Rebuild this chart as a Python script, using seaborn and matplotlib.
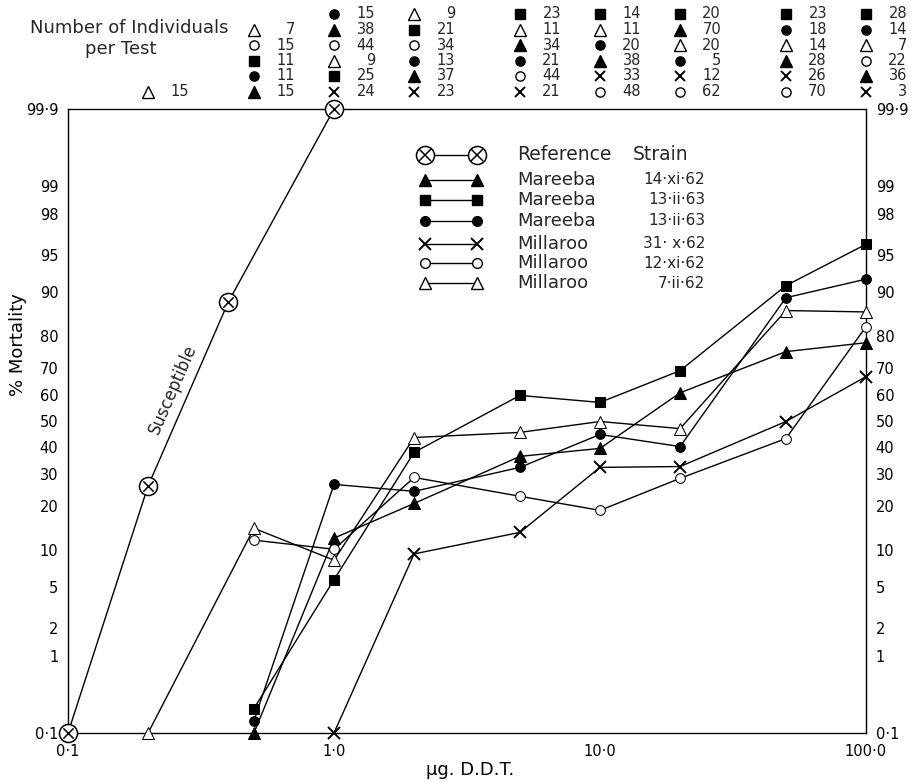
import statistics
import numpy as np
import pandas as pd
import matplotlib
matplotlib.use("Agg")
import matplotlib.pyplot as plt
import matplotlib.transforms as mtransforms
from matplotlib.ticker import NullLocator
import seaborn as sns

# probit (normal-probability) scale for % mortality
_nd = statistics.NormalDist()

def probit(p):
    p = np.clip(np.asarray(p, dtype=float), 1e-7, 100 - 1e-7) / 100.0
    return np.vectorize(_nd.inv_cdf, otypes=[float])(p)

def inv_probit(z):
    return np.vectorize(_nd.cdf, otypes=[float])(np.asarray(z, dtype=float)) * 100.0

# ---- data (dose in ug DDT, % mortality) ----
ref_dose = [0.1, 0.2, 0.4, 1.0]
ref_mort = [0.1, 26, 88, 99.9]

doses = [0.5, 1.0, 2.0, 5.0, 10.0, 20.0, 50.0, 100.0]
mar_tri = [0.1, 12.3, 20.7, 36.3, 39.3, 61, 75.4, 78.1]      # Mareeba 14.xi.62
mar_sq = [0.22, 5.8, 37.8, 60, 57.3, 69.1, 91, 96]           # Mareeba 13.ii.63
mar_circ = [0.15, 26.5, 24.3, 32.3, 44.7, 40, 88.9, 92]      # Mareeba 13.ii.63
mill_x_dose = [1.0, 2.0, 5.0, 10.0, 20.0, 50.0, 100.0]
mill_x = [0.1, 9.4, 13.5, 32.3, 32.6, 49.8, 67]              # Millaroo 31.x.62
mill_o = [11.9, 10.2, 28.8, 22.8, 18.8, 28.5, 43.1, 82.5]    # Millaroo 12.xi.62
mill_tri_dose = [0.2, 0.5, 1.0, 2.0, 5.0, 10.0, 20.0, 50.0, 100.0]
mill_tri = [0.1, 14.4, 8.4, 43.5, 45.5, 49.8, 47, 86.3, 86]  # Millaroo 7.ii.62

# number of individuals per test
n_mar_tri = [15, 38, 37, 34, 38, 70, 28, 36]
n_mar_sq = [11, 25, 21, 23, 14, 20, 23, 28]
n_mar_circ = [11, 15, 13, 21, 20, 5, 18, 14]
n_mill_x = [24, 23, 21, 33, 12, 26, 3]
n_mill_o = [15, 44, 34, 44, 48, 62, 70, 22]
n_mill_tri = [15, 7, 9, 9, 11, 11, 20, 14, 7]

strains = ["Mareeba 14·xi·62", "Mareeba 13·ii·63 sq", "Mareeba 13·ii·63 ci",
           "Millaroo 31·x·62", "Millaroo 12·xi·62", "Millaroo 7·ii·62"]
legend_names = ["Mareeba", "Mareeba", "Mareeba", "Millaroo", "Millaroo", "Millaroo"]
legend_dates = ["14·xi·62", "13·ii·63", "13·ii·63", "31· x·62", "12·xi·62", "7·ii·62"]

rows = []
for s, d, m, n in zip(strains,
                      [doses, doses, doses, mill_x_dose, doses, mill_tri_dose],
                      [mar_tri, mar_sq, mar_circ, mill_x, mill_o, mill_tri],
                      [n_mar_tri, n_mar_sq, n_mar_circ, n_mill_x, n_mill_o, n_mill_tri]):
    for di, mi, ni in zip(d, m, n):
        rows.append((s, di, mi, ni))
df = pd.DataFrame(rows, columns=["strain", "dose", "mortality", "n"])

styles = {
    strains[0]: dict(marker="^", markersize=9, markerfacecolor="black"),
    strains[1]: dict(marker="s", markersize=7.5, markerfacecolor="black"),
    strains[2]: dict(marker="o", markersize=7, markerfacecolor="black"),
    strains[3]: dict(marker="x", markersize=8, markeredgewidth=1.4),
    strains[4]: dict(marker="o", markersize=7, markerfacecolor="white"),
    strains[5]: dict(marker="^", markersize=9, markerfacecolor="white"),
}

sns.set_theme(style="white")
plt.rcParams["font.family"] = ["DejaVu Sans"]

W, H = 924, 782
fig = plt.figure(figsize=(W / 100, H / 100), dpi=100)
ax = fig.add_axes([68 / W, (H - 733) / H, 798 / W, 624 / H])
ax.set_xscale("log")
ax.set_yscale("function", functions=(probit, inv_probit))
ax.set_xlim(0.1, 100)
ax.set_ylim(0.1, 99.9)

for s in strains:
    sns.lineplot(data=df[df.strain == s], x="dose", y="mortality", ax=ax,
                 color="black", linewidth=1.0, markeredgecolor="black",
                 errorbar=None, clip_on=False, zorder=3, **styles[s])

# reference (susceptible) strain: circled crosses
ref_df = pd.DataFrame({"dose": ref_dose, "mortality": ref_mort})
sns.lineplot(data=ref_df, x="dose", y="mortality", ax=ax, color="black", linewidth=1.0,
             marker="o", markersize=13, markerfacecolor="white", markeredgecolor="black",
             markeredgewidth=1.1, errorbar=None, clip_on=False, zorder=4)
sns.scatterplot(data=ref_df, x="dose", y="mortality", ax=ax, marker="x", s=55,
                color="black", linewidth=1.1, clip_on=False, zorder=5)

# axes, ticks
for sp in ax.spines.values():
    sp.set_color("black")
    sp.set_linewidth(1.0)
    sp.set_visible(True)
ax.set_xticks([0.1, 1, 10, 100], labels=["0·1", "1·0", "10·0", "100·0"])
yt = [0.1, 1, 2, 5, 10, 20, 30, 40, 50, 60, 70, 80, 90, 95, 98, 99, 99.9]
ax.set_yticks(yt, labels=["0·1", "1", "2", "5", "10", "20", "30", "40", "50", "60",
                          "70", "80", "90", "95", "98", "99", "99·9"])
ax.xaxis.set_minor_locator(NullLocator())
ax.yaxis.set_minor_locator(NullLocator())
ax.tick_params(axis="both", length=0, labelsize=10.5, colors="black")
ax.tick_params(axis="x", pad=8)
ax.tick_params(axis="y", pad=7, labelright=True)
ax.grid(False)
ax.set_xlabel("μg. D.D.T.", fontsize=13, color="black")
ax.set_ylabel("% Mortality", fontsize=13, color="black")
ax.xaxis.set_label_coords((470 - 68) / 798, (733 - 770) / 624)
ax.yaxis.set_label_coords((18 - 68) / 798, (733 - 345) / 624)
ax.xaxis.label.set_va("center")
ax.yaxis.label.set_va("center")

# "Susceptible" along the reference line
p1 = ax.transData.transform((ref_dose[1], ref_mort[1]))
p2 = ax.transData.transform((ref_dose[2], ref_mort[2]))
ang = np.degrees(np.arctan2(p2[1] - p1[1], p2[0] - p1[0]))
mid = (p1 + p2) / 2
ax.annotate("Susceptible", xy=mid, xycoords="figure pixels", xytext=(-5, 1),
            textcoords="offset points", rotation=ang, rotation_mode="anchor",
            ha="center", va="bottom", fontsize=12)

# header: number of individuals per test
fig.text(30 / W, 1 - 28 / H, "Number of Individuals", fontsize=13, ha="left", va="center")
fig.text(121 / W, 1 - 49 / H, "per Test", fontsize=13, ha="center", va="center")
blend = mtransforms.blended_transform_factory(ax.transData, fig.transFigure)
row_y = [14, 29.5, 45, 60.5, 76, 91.5]
hdr = df.sort_values(["dose", "mortality"], ascending=[True, False])
for dose, grp in hdr.groupby("dose"):
    start = len(row_y) - len(grp)
    for k, (_, r) in enumerate(grp.iterrows()):
        yf = 1 - row_y[start + k] / H
        st = dict(styles[r.strain])
        st["markersize"] = st["markersize"] * 0.95
        ax.plot([dose], [yf], transform=blend, color="black", markeredgecolor="black",
                linestyle="none", clip_on=False, **st)
        ax.annotate(str(r.n), xy=(dose, yf), xycoords=blend, xytext=(41, 0),
                    textcoords="offset pixels", ha="right", va="center", fontsize=10.5)

# legend drawn as in the original
leg_y = [155, 180, 200, 221, 244, 263, 283]
ax.plot([425 / W, 477 / W], [1 - leg_y[0] / H] * 2, transform=fig.transFigure, color="black",
        lw=1.0, marker="o", ms=13, mfc="white", mec="black", mew=1.1, clip_on=False)
ax.plot([425 / W, 477 / W], [1 - leg_y[0] / H] * 2, transform=fig.transFigure, color="black",
        lw=0, marker="x", ms=8, mew=1.1, clip_on=False)
fig.text(517 / W, 1 - leg_y[0] / H, "Reference", fontsize=13.5, va="center")
fig.text(633 / W, 1 - leg_y[0] / H, "Strain", fontsize=13.5, va="center")
for i, s in enumerate(strains):
    y = 1 - leg_y[i + 1] / H
    ax.plot([425 / W, 477 / W], [y, y], transform=fig.transFigure, color="black", lw=1.0,
            markeredgecolor="black", clip_on=False, **styles[s])
    fig.text(517 / W, y, legend_names[i], fontsize=13, va="center")
    fig.text(705 / W, y, legend_dates[i], fontsize=11, va="center", ha="right")

fig.savefig("out.png", dpi=100)
